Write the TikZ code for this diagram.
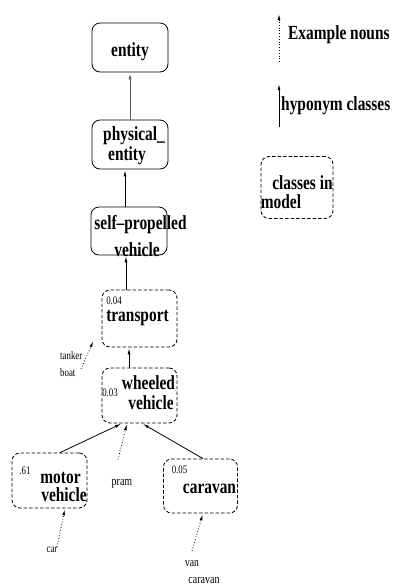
\documentclass[tikz,border=0pt]{standalone}
\usepackage{fontspec}
\setmainfont{Liberation Serif}
\newfontfamily\tallfont[FakeStretch=0.77,Ligatures=TeX]{Liberation Serif}
\usetikzlibrary{arrows.meta}
\begin{document}
\begin{tikzpicture}[x=1pt,y=-1pt,
  solidbox/.style={draw, rounded corners=8pt, line width=0.8pt, inner sep=0pt, minimum width=76pt, minimum height=49pt},
  dashbox/.style={draw, rounded corners=8pt, line width=0.8pt, dash pattern=on 3.5pt off 2pt, inner sep=0pt, minimum width=75pt, minimum height=55pt},
  big/.style={font=\tallfont\fontsize{20}{22}\selectfont\bfseries, inner sep=0pt},
  small/.style={font=\tallfont\fontsize{11.5}{12}\selectfont, inner sep=0pt},
  hyp/.style={line width=0.8pt, -{Latex[length=6pt,width=3pt]}, shorten >=1pt},
  ex/.style={line width=0.8pt, dash pattern=on 0.8pt off 2pt, -{Latex[length=6pt,width=3pt]}, shorten >=1pt},
]
\useasboundingbox (0,0) rectangle (393,587);

% boxes
\node[solidbox] (entity) at (130,47.5) {};
\node[solidbox] (physical) at (130,144.5) {};
\node[solidbox, minimum height=48pt] (selfprop) at (129,231) {};
\node[dashbox, minimum height=57pt] (transport) at (139.5,318.5) {};
\node[dashbox] (wheeled) at (139.5,395.5) {};
\node[dashbox] (motor) at (49.5,480.5) {};
\node[dashbox, minimum width=74pt, minimum height=54pt] (caravanbox) at (200.5,486) {};
\node[dashbox, minimum width=72pt, minimum height=62pt] (legbox) at (297,187.5) {};

% box texts
\node[big] (tentity) at (130,52) {entity};
\node[big] (tphys1) at (134,135.5) {physical\_};
\node[big] (tphys2) at (127,156) {entity};
\node[big] (tself1) at (140.5,225) {self\textendash propelled};
\node[big] (tself2) at (137,250) {vehicle};
\node[small] (p004) at (114,301) {0.04};
\node[big] (ttransport) at (137.5,318) {transport};
\node[small] (p003) at (110,393) {0.03};
\node[big] (twheel1) at (148.5,383) {wheeled};
\node[big] (twheel2) at (151,403) {vehicle};
\node[small] (p061) at (25,471) {.61};
\node[big] (tmotor1) at (60.5,478) {motor};
\node[big] (tmotor2) at (64,495) {vehicle};
\node[small] (p005) at (179.5,470) {0.05};
\node[big] (tcaravan) at (209.5,489) {caravan};

% example nouns
\node[small, anchor=west] (tanker) at (60,356) {tanker};
\node[small, anchor=west] (boat) at (60,373) {boat};
\node[small, font=\tallfont\fontsize{13}{14}\selectfont] (pram) at (122,484) {pram};
\node[small] (car) at (52,550) {car};
\node[small, font=\tallfont\fontsize{12.5}{14}\selectfont] (van) at (192,564) {van};
\node[small, font=\tallfont\fontsize{13}{14}\selectfont] (caravan) at (204,580.5) {caravan};

% legend
\coordinate (exbot) at (279,62);
\coordinate (extop) at (279,13);
\coordinate (hybot) at (279,127);
\coordinate (hytop) at (279,83);
\draw[ex] (exbot) -- (extop);
\draw[hyp] (hybot) -- (hytop);
\node[big, anchor=west] (lexample) at (288,35) {Example nouns};
\node[big, anchor=west] (lhyponym) at (281,106) {hyponym classes};
\node[big] (lclasses) at (302.5,183) {classes in};
\node[big] (lmodel) at (281,202) {model};

% hyponym connectors
\draw[hyp, draw=black!65] (physical.north) -- (entity.south);
\draw[hyp] ([xshift=-4pt]selfprop.north) -- ([xshift=-5pt]physical.south);
\draw[hyp] ([xshift=-13.5pt]transport.north) -- ([xshift=-3pt]selfprop.south);
\draw[hyp] ([xshift=-10.5pt]wheeled.north) -- ([xshift=-10.5pt]transport.south);
\draw[hyp] ([xshift=10.5pt]motor.north) -- ([xshift=-17.5pt]wheeled.south);
\draw[hyp] ([xshift=2.5pt]caravanbox.north) -- ([xshift=2.5pt]wheeled.south);

% example connectors
\coordinate (tkstart) at (81,369);
\draw[ex] (tkstart) -- ([shift={(-8pt,7pt)}]transport.south west);
\draw[ex] ([shift={(-4pt,20pt)}]pram.north) -- ([xshift=-12.5pt]wheeled.south);
\draw[ex] ([xshift=5pt]car.north) -- ([xshift=15.5pt]motor.south);
\draw[ex] ([yshift=10pt]van.north) -- ([xshift=2.5pt]caravanbox.south);
\end{tikzpicture}
\end{document}
